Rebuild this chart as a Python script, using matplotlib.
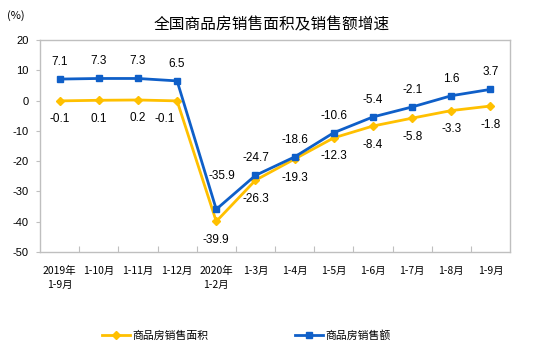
import matplotlib
matplotlib.use("Agg")
import matplotlib.pyplot as plt
from matplotlib.lines import Line2D

plt.rcParams['font.family'] = ['Liberation Sans', 'Noto Sans CJK SC', 'DejaVu Sans']

categories = ["2019年\n1-9月", "1-10月", "1-11月", "1-12月", "2020年\n1-2月", "1-3月",
              "1-4月", "1-5月", "1-6月", "1-7月", "1-8月", "1-9月"]
area = [-0.1, 0.1, 0.2, -0.1, -39.9, -26.3, -19.3, -12.3, -8.4, -5.8, -3.3, -1.8]
sales = [7.1, 7.3, 7.3, 6.5, -35.9, -24.7, -18.6, -10.6, -5.4, -2.1, 1.6, 3.7]
yticks = [20, 10, 0, -10, -20, -30, -40, -50]

YELLOW = "#FFC000"
BLUE = "#0F5FC8"

fig = plt.figure(figsize=(5.33, 3.51), dpi=100)
ax = fig.add_axes([0.075, 0.282, 0.882, 0.604])

x = list(range(len(categories)))
ax.plot(x, area, color=YELLOW, lw=2, marker="D", ms=4.5, zorder=3)
ax.plot(x, sales, color=BLUE, lw=2, marker="s", ms=5, zorder=4)

# label offsets (points) for special cases
area_off = {3: (-9, -9)}
sales_off = {4: (4, 20)}

for xi, v in zip(x, area):
    dx, dy = area_off.get(xi, (0, -9))
    ax.annotate(f"{v:.1f}", (xi, v), xytext=(dx, dy), textcoords="offset points",
                ha="center", va="top", fontsize=8.5)
for xi, v in zip(x, sales):
    dx, dy = sales_off.get(xi, (0, 8))
    ax.annotate(f"{v:.1f}", (xi, v), xytext=(dx, dy), textcoords="offset points",
                ha="center", va="bottom", fontsize=8.5)

ax.set_xlim(-0.5, len(categories) - 0.5)
ax.set_ylim(-50, 20)
ax.set_yticks(yticks)
ax.set_yticklabels([str(t) for t in yticks], fontsize=8)
ax.tick_params(axis="y", length=3, color="#BFBFBF", pad=5)

ax.set_xticks([i + 0.5 for i in range(len(categories) - 1)], minor=False)
ax.set_xticklabels([])
ax.tick_params(axis="x", direction="in", length=4, color="#BFBFBF")
for xi, c in enumerate(categories):
    ax.text(xi, -54.5, c, ha="center", va="top", fontsize=7.5, linespacing=1.5,
            family=['Noto Sans CJK SC', 'DejaVu Sans'])

for s in ax.spines.values():
    s.set_color("#BFBFBF")
    s.set_linewidth(1)

fig.text(0.51, 0.928, "全国商品房销售面积及销售额增速", ha="center", va="center",
         fontsize=11.3, family=['Noto Sans CJK SC', 'DejaVu Sans'])
fig.text(0.014, 0.955, "(%)", ha="left", va="center", fontsize=8,
         family=['Noto Sans CJK SC', 'DejaVu Sans'])

handles = [Line2D([], [], color=YELLOW, lw=2, marker="D", ms=4),
           Line2D([], [], color=BLUE, lw=2, marker="s", ms=4.5)]
leg = fig.legend(handles, ["商品房销售面积", "商品房销售额"], loc="center",
                 bbox_to_anchor=(0.462, 0.043), ncol=2, frameon=False,
                 columnspacing=8.0, handlelength=2.6, handletextpad=0.2,
                 prop={'family': ['Noto Sans CJK SC', 'DejaVu Sans'], 'size': 7.8})

fig.savefig("out.png", dpi=100)
